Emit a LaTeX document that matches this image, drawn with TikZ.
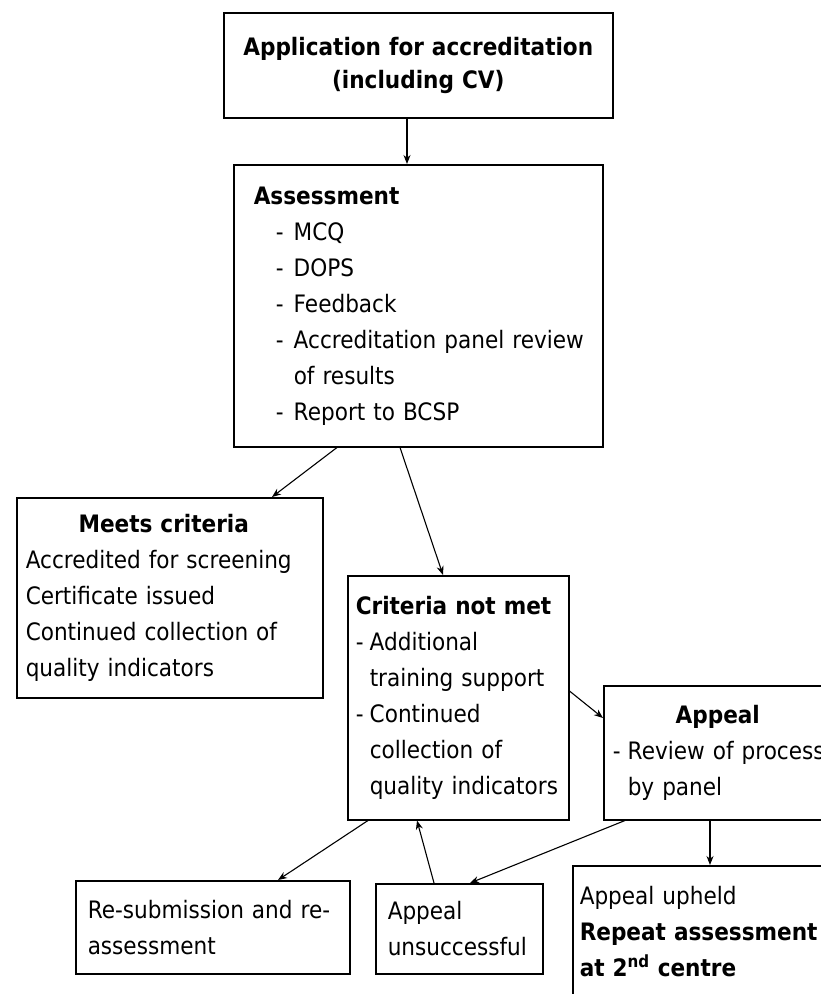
\documentclass[tikz,border=0pt]{standalone}
\usepackage{fontspec}
\setmainfont{DejaVu Sans}[FakeStretch=0.9]
\usetikzlibrary{arrows.meta,calc}
\newcommand\fs{\fontsize{24}{36}\selectfont}
\tikzset{
  box/.style={draw, line width=1.5pt, anchor=north west, inner ysep=0pt, align=left, font=\fs},
  conn/.style={line width=1.1pt, -{Stealth[length=9pt,width=7pt]}},
}
\begin{document}
\begin{tikzpicture}[x=1pt,y=-1pt]
\useasboundingbox (0,0) rectangle (821,994);
\fill[white] (0,0) rectangle (821,994);
\clip (0,0) rectangle (821,994);

\node[box, minimum width=389pt, minimum height=105pt, text width=369pt, inner xsep=10pt,
      align=center, font=\fontsize{24}{33}\selectfont] (app) at (223,12)
  {\textbf{Application for accreditation}\\\textbf{(including CV)}};

\node[box, minimum width=369pt, minimum height=282pt, text width=329pt, inner xsep=20pt] (assess) at (233,164)
  {\textbf{Assessment}\\
   \hspace*{22pt}\makebox[18pt][l]{-}MCQ\\
   \hspace*{22pt}\makebox[18pt][l]{-}DOPS\\
   \hspace*{22pt}\makebox[18pt][l]{-}Feedback\\
   \hspace*{22pt}\makebox[18pt][l]{-}\mbox{Accreditation panel review}\\
   \hspace*{40pt}of results\\
   \hspace*{22pt}\makebox[18pt][l]{-}Report to BCSP};

\node[box, minimum width=306pt, minimum height=200pt, text width=288pt, inner xsep=9pt] (meets) at (16,497)
  {\makebox[\hsize][c]{\textbf{Meets criteria}\hspace*{12pt}}\\
   \mbox{Accredited for screening}\\
   Certificate issued\\
   \mbox{Continued collection of}\\
   quality indicators};

\node[box, minimum width=221pt, minimum height=244pt, text width=205pt, inner xsep=8pt] (crit) at (347,575)
  {\mbox{\textbf{Criteria not met}}\\
   \makebox[14pt][l]{-}Additional\\
   \hspace*{14pt}\mbox{training support}\\
   \makebox[14pt][l]{-}Continued\\
   \hspace*{14pt}collection of\\
   \hspace*{14pt}\mbox{quality indicators}};

\node[box, minimum width=228pt, minimum height=134pt, text width=210pt, inner xsep=9pt] (appeal) at (603,685)
  {\makebox[\hsize][c]{\textbf{Appeal}}\\
   \mbox{\makebox[15pt][l]{-}Review of process}\\
   \hspace*{15pt}by panel};

\node[box, minimum width=274pt, minimum height=93pt, text width=250pt, inner xsep=12pt] (resub) at (75,880)
  {\mbox{Re-submission and re-}\\assessment};

\node[box, minimum width=167pt, minimum height=90pt, text width=143pt, inner xsep=12pt] (unsucc) at (375,883)
  {Appeal\\\mbox{unsuccessful}};

\node[box, minimum width=290pt, minimum height=132pt, text width=276pt, inner xsep=7pt] (upheld) at (572,865)
  {Appeal upheld\\
   \mbox{\textbf{Repeat assessment}}\\
   \mbox{\textbf{at 2\textsuperscript{nd} centre}}};

\draw[conn] ($(app.south west)+(184,0)$) -- ($(assess.north west)+(174,0)$);
\draw[conn] ($(assess.south west)+(104,0)$) -- ($(meets.north west)+(256,0)$);
\draw[conn] ($(assess.south west)+(167,0)$) -- ($(crit.north west)+(96,0)$);
\draw[conn] ($(crit.north east)+(0,116)$) -- ($(appeal.north west)+(0,33)$);
\draw[conn] ($(crit.south west)+(21,0)$) -- ($(resub.north west)+(203,0)$);
\draw[conn] ($(unsucc.north west)+(59,0)$) -- ($(crit.south west)+(70,0)$);
\draw[conn] ($(appeal.south west)+(22,0)$) -- ($(unsucc.north west)+(95,0)$);
\draw[conn] ($(appeal.south west)+(107,0)$) -- ($(upheld.north west)+(138,0)$);
\end{tikzpicture}
\end{document}
